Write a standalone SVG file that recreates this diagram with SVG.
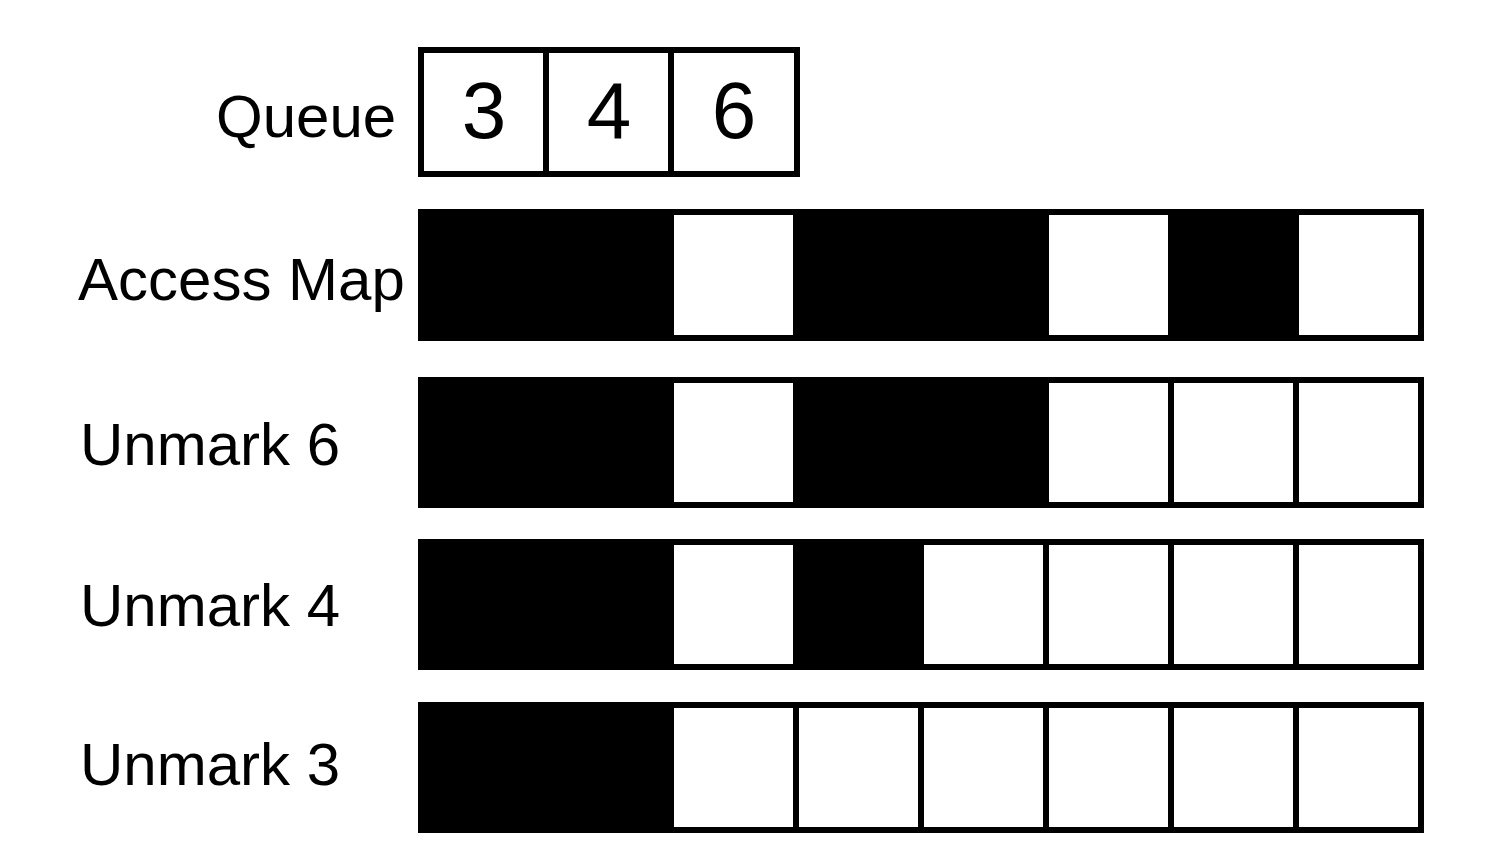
<svg xmlns="http://www.w3.org/2000/svg" width="1496" height="852" viewBox="0 0 1496 852">
<style>
.lbl{font-family:"Liberation Sans",Arial,sans-serif;font-size:60px;fill:#000}
.num{font-family:"Liberation Sans",Arial,sans-serif;font-size:80px;fill:#000;text-anchor:middle}
.w{fill:#fff;stroke:#000;stroke-width:6}
.b{fill:#000;stroke:#000;stroke-width:6}
</style>
<rect width="1496" height="852" fill="#fff"/>
<g id="queue">
<text class="lbl" x="216" y="137">Queue</text>
<rect class="w" x="421" y="50" width="125" height="124"/>
<rect class="w" x="546" y="50" width="125" height="124"/>
<rect class="w" x="671" y="50" width="126" height="124"/>
<text class="num" x="484" y="138">3</text>
<text class="num" x="609" y="138">4</text>
<text class="num" x="734" y="138">6</text>
</g>
<g id="access-map">
<text class="lbl" x="78" y="300">Access Map</text>
<rect class="b" x="421" y="212" width="125" height="126"/>
<rect class="b" x="546" y="212" width="125" height="126"/>
<rect class="w" x="671" y="212" width="125" height="126"/>
<rect class="b" x="796" y="212" width="125" height="126"/>
<rect class="b" x="921" y="212" width="125" height="126"/>
<rect class="w" x="1046" y="212" width="125" height="126"/>
<rect class="b" x="1171" y="212" width="125" height="126"/>
<rect class="w" x="1296" y="212" width="125" height="126"/>
</g>
<g id="unmark-6">
<text class="lbl" x="80" y="465">Unmark 6</text>
<rect class="b" x="421" y="380" width="125" height="125"/>
<rect class="b" x="546" y="380" width="125" height="125"/>
<rect class="w" x="671" y="380" width="125" height="125"/>
<rect class="b" x="796" y="380" width="125" height="125"/>
<rect class="b" x="921" y="380" width="125" height="125"/>
<rect class="w" x="1046" y="380" width="125" height="125"/>
<rect class="w" x="1171" y="380" width="125" height="125"/>
<rect class="w" x="1296" y="380" width="125" height="125"/>
</g>
<g id="unmark-4">
<text class="lbl" x="80" y="626">Unmark 4</text>
<rect class="b" x="421" y="542" width="125" height="125"/>
<rect class="b" x="546" y="542" width="125" height="125"/>
<rect class="w" x="671" y="542" width="125" height="125"/>
<rect class="b" x="796" y="542" width="125" height="125"/>
<rect class="w" x="921" y="542" width="125" height="125"/>
<rect class="w" x="1046" y="542" width="125" height="125"/>
<rect class="w" x="1171" y="542" width="125" height="125"/>
<rect class="w" x="1296" y="542" width="125" height="125"/>
</g>
<g id="unmark-3">
<text class="lbl" x="80" y="785">Unmark 3</text>
<rect class="b" x="421" y="705" width="125" height="125"/>
<rect class="b" x="546" y="705" width="125" height="125"/>
<rect class="w" x="671" y="705" width="125" height="125"/>
<rect class="w" x="796" y="705" width="125" height="125"/>
<rect class="w" x="921" y="705" width="125" height="125"/>
<rect class="w" x="1046" y="705" width="125" height="125"/>
<rect class="w" x="1171" y="705" width="125" height="125"/>
<rect class="w" x="1296" y="705" width="125" height="125"/>
</g>
<g id="connectors"/>
</svg>
